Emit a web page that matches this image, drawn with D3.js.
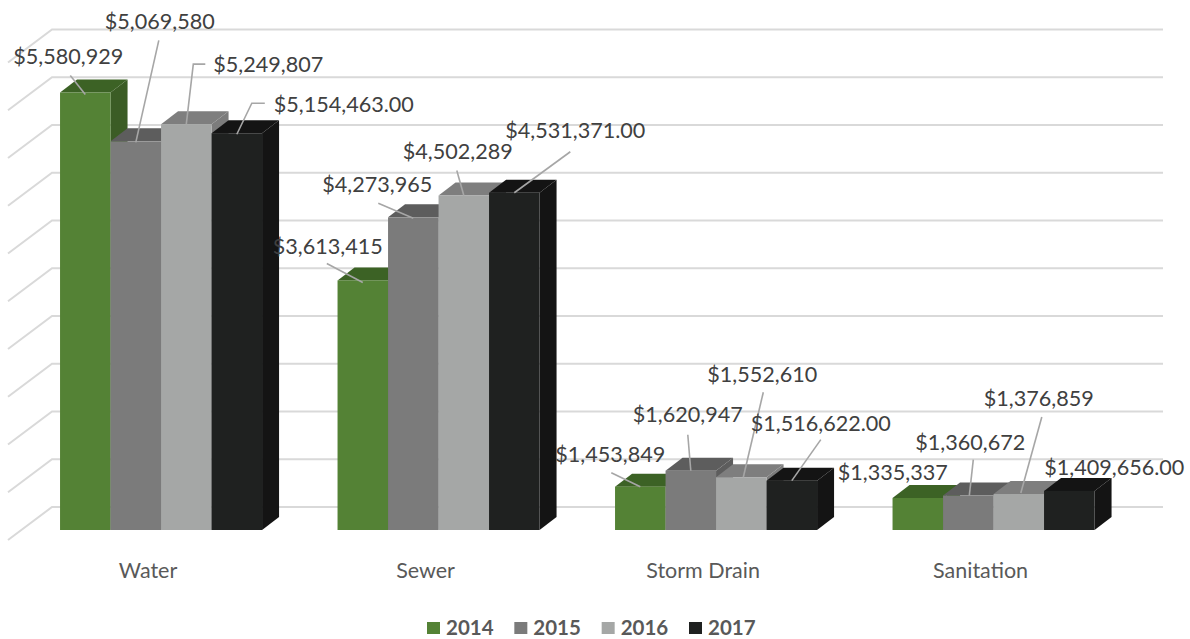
<!DOCTYPE html>
<html>
<head>
<meta charset="utf-8">
<style>
  html, body { margin: 0; padding: 0; background: #fff; }
  svg { display: block; }
  text { font-family: Lato, "Open Sans", sans-serif; }
</style>
<script src="https://cdn.jsdelivr.net/npm/d3@7/dist/d3.min.js"></script>
</head>
<body>
<svg width="1190" height="639"></svg>
<script>
// values
var categories = ['Water', 'Sewer', 'Storm Drain', 'Sanitation'];
var years = ['2014', '2015', '2016', '2017'];
var values2014 = [5580929, 3613415, 1453849, 1335337];
var values2015 = [5069580, 4273965, 1620947, 1360672];
var values2016 = [5249807, 4502289, 1552610, 1376859];
var values2017 = [5154463, 4531371, 1516622, 1409656];
var seriesValues = [values2014, values2015, values2016, values2017];
var axisTicks = d3.range(1000000, 6000001, 500000);

// colours per year: front face, top face, side face
var colors = [
    {front: '#548235', top: '#3c6225', side: '#3b5c25'},
    {front: '#7b7b7b', top: '#5d5d5d', side: '#5d5d5d'},
    {front: '#a5a7a6', top: '#7e7e7e', side: '#7c7c7c'},
    {front: '#1f2120', top: '#141414', side: '#141414'}
];

// label placement relative to top centre of each bar, [year][category]
// t = text centre, l = leader line points
var labelLayout = [
    [
        {t: [-17, -36], l: [[-15, -17], [0, 2]]},
        {t: [-35, -34], l: [[-36, -17], [0, 2]]},
        {t: [-30, -32], l: [[-29, -14], [0, 0]]},
        {t: [-25, -26], l: []}
    ],
    [
        {t: [24, -120], l: [[23, -101], [0, 1]]},
        {t: [-36, -33], l: [[-35, -14], [0, 1]]},
        {t: [-3, -56], l: [[-3, -36], [0, 0]]},
        {t: [2, -53], l: [[5, -36], [1, 0]]}
    ],
    [
        {t: [82, -60], l: [[19, -60], [7, -60], [0, 0]]},
        {t: [-6, -44], l: [[-7, -25], [0, 0]]},
        {t: [21, -103], l: [[22, -85], [2, 0]]},
        {t: [20, -96], l: [[23, -77], [2, -1]]}
    ],
    [
        {t: [107, -29], l: [[28, -30], [15, -30], [0, 1]]},
        {t: [61, -62], l: [[56, -41], [0, 0]]},
        {t: [29, -57], l: [[29, -41], [0, 0]]},
        {t: [45, -23], l: []}
    ]
];

var svg = d3.select('svg');

var wallLeft = 52;
var wallRight = 1163;
var wallDrop = 23;       // back wall sits this far above the bar fronts
var floorDx = 44, floorDy = 33;
var depthX = 17, depthY = 13;

var xCat = d3.scaleBand()
    .domain(categories)
    .range([22.3, 1132.3])
    .paddingInner(0.272)
    .paddingOuter(0.136);

var xYear = d3.scaleBand()
    .domain(years)
    .range([0, xCat.bandwidth()]);

var y = d3.scaleLinear()
    .domain([1000000, 6000000])
    .range([530, 52.5]);

var dollars = d3.format('$,');
var dollarsCents = d3.format('$,.2f');

// gridlines: flat on the back wall, then slanting toward the viewer on the side wall
svg.append('g')
    .attr('class', 'grid')
    .selectAll('path')
    .data(axisTicks)
    .enter()
    .append('path')
    .attr('fill', 'none')
    .attr('stroke', '#d9d9d9')
    .attr('stroke-width', 2)
    .attr('d', function(d) {
        var wy = y(d) - wallDrop;
        return 'M' + [wallLeft - floorDx, wy + floorDy] + 'L' + [wallLeft, wy] + 'L' + [wallRight, wy];
    });

// flatten into one record per bar, drawn left to right so each bar overlaps the previous side
var bars = [];
categories.forEach(function(cat, c) {
    years.forEach(function(year, s) {
        bars.push({cat: cat, c: c, year: year, s: s, value: seriesValues[s][c]});
    });
});

var barG = svg.append('g')
    .attr('class', 'bars')
    .selectAll('g')
    .data(bars)
    .enter()
    .append('g');

barG.append('path')
    .attr('fill', function(d) { return colors[d.s].side; })
    .attr('d', function(d) {
        var x1 = xCat(d.cat) + xYear(d.year) + xYear.bandwidth();
        return 'M' + [x1, y(d.value)] + 'l' + [depthX, -depthY] + 'L' + [x1 + depthX, y.range()[0] - depthY] + 'L' + [x1, y.range()[0]] + 'Z';
    });

barG.append('path')
    .attr('fill', function(d) { return colors[d.s].top; })
    .attr('d', function(d) {
        var x0 = xCat(d.cat) + xYear(d.year);
        return 'M' + [x0, y(d.value)] + 'l' + [depthX, -depthY] + 'h' + xYear.bandwidth() + 'l' + [-depthX, depthY] + 'Z';
    });

barG.append('rect')
    .attr('x', function(d) { return xCat(d.cat) + xYear(d.year); })
    .attr('y', function(d) { return y(d.value); })
    .attr('width', xYear.bandwidth())
    .attr('height', function(d) { return y.range()[0] - y(d.value); })
    .attr('fill', function(d) { return colors[d.s].front; });

function anchorX(d) { return xCat(d.cat) + xYear(d.year) + xYear.bandwidth() / 2; }

// leader lines
svg.append('g')
    .attr('class', 'leaders')
    .selectAll('path')
    .data(bars.filter(function(d) { return labelLayout[d.s][d.c].l.length; }))
    .enter()
    .append('path')
    .attr('fill', 'none')
    .attr('stroke', '#a6a6a6')
    .attr('stroke-width', 1.6)
    .attr('d', function(d) {
        var ax = anchorX(d), ay = y(d.value);
        return d3.line()
            .x(function(p) { return ax + p[0]; })
            .y(function(p) { return ay + p[1]; })(labelLayout[d.s][d.c].l);
    });

// data labels
svg.append('g')
    .attr('class', 'labels')
    .selectAll('text')
    .data(bars)
    .enter()
    .append('text')
    .attr('x', function(d) { return anchorX(d) + labelLayout[d.s][d.c].t[0]; })
    .attr('y', function(d) { return y(d.value) + labelLayout[d.s][d.c].t[1]; })
    .attr('dy', '0.35em')
    .attr('text-anchor', 'middle')
    .attr('font-size', 21.6)
    .attr('fill', '#404040')
    .text(function(d) { return d.year === '2017' ? dollarsCents(d.value) : dollars(d.value); });

// category axis
var xAxis = svg.append('g')
    .attr('class', 'axis-x')
    .attr('transform', 'translate(-13,563)')
    .call(d3.axisBottom(xCat).tickSize(0).tickPadding(0));

xAxis.select('.domain').remove();
xAxis.selectAll('text')
    .attr('font-size', 21.5)
    .style('font-family', 'Lato, "Open Sans", sans-serif')
    .attr('fill', '#595959');

// legend
var legendX = d3.scalePoint()
    .domain(years)
    .range([427, 689]);

var legend = svg.append('g')
    .attr('class', 'legend')
    .selectAll('g')
    .data(years)
    .enter()
    .append('g')
    .attr('transform', function(d) { return 'translate(' + [legendX(d), 622] + ')'; });

legend.append('rect')
    .attr('width', 13)
    .attr('height', 12)
    .attr('fill', function(d, i) { return colors[i].front; });

legend.append('text')
    .attr('x', 19)
    .attr('y', 13)
    .attr('font-size', 20.5)
    .attr('font-weight', 700)
    .attr('fill', '#595959')
    .text(function(d) { return d; });
</script>
</body>
</html>
